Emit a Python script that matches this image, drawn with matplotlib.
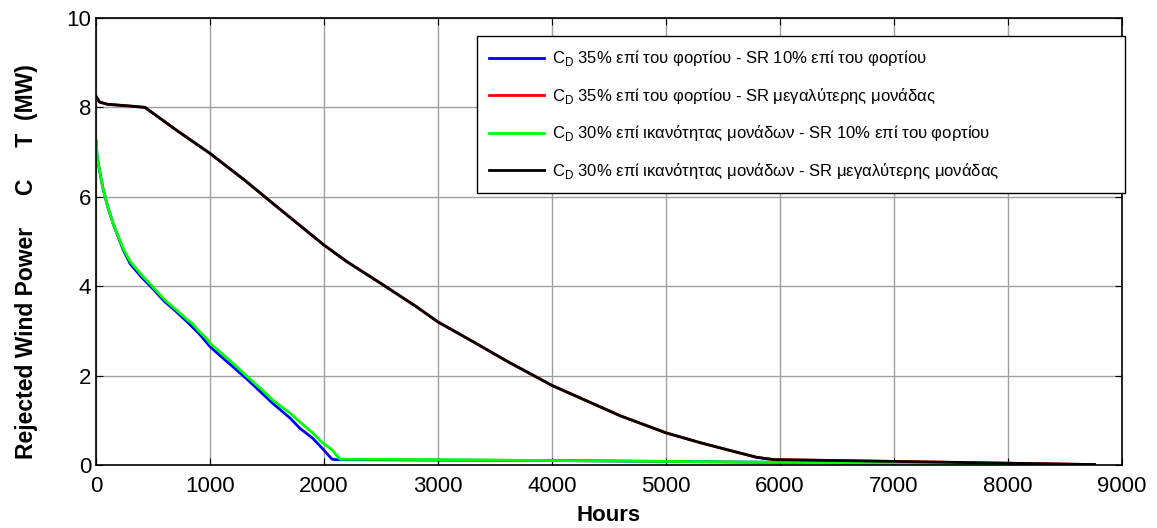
import matplotlib
matplotlib.use("Agg")
import matplotlib.pyplot as plt

plt.rcParams['font.family'] = ['Liberation Sans', 'DejaVu Sans']
plt.rcParams['mathtext.fontset'] = 'custom'
plt.rcParams['mathtext.rm'] = 'Liberation Sans'
plt.rcParams['mathtext.bf'] = 'Liberation Sans:bold'

# black / red curve (red lies under black)
hours_k = [0, 30, 100, 300, 430, 500, 700, 1000, 1300, 1600, 2000, 2200, 2500, 2800,
           3000, 3300, 3600, 4000, 4300, 4600, 5000, 5300, 5600, 5800, 5950, 6500,
           7000, 7500, 8000, 8760]
ct_k = [8.25, 8.12, 8.07, 8.03, 8.0, 7.87, 7.5, 6.97, 6.38, 5.75, 4.92, 4.55, 4.06, 3.56,
        3.2, 2.77, 2.33, 1.78, 1.44, 1.1, 0.72, 0.5, 0.3, 0.17, 0.12, 0.1,
        0.08, 0.06, 0.04, 0.01]

# green curve
hours_g = [0, 10, 30, 60, 100, 150, 237, 300, 400, 500, 600, 700, 800, 850, 900, 974,
           1000, 1100, 1200, 1325, 1450, 1550, 1702, 1789, 1900, 1982, 2070, 2140,
           3000, 4000, 5000, 6000, 7000, 8000, 8760]
ct_g = [7.25, 6.9, 6.6, 6.2, 5.8, 5.4, 4.85, 4.55, 4.25, 3.98, 3.7, 3.48, 3.25, 3.15, 3.0, 2.82,
        2.72, 2.5, 2.28, 1.98, 1.7, 1.45, 1.16, 0.96, 0.72, 0.51, 0.34, 0.13,
        0.12, 0.1, 0.08, 0.06, 0.04, 0.02, 0.0]

# blue curve
hours_b = [0, 10, 30, 60, 100, 150, 237, 300, 400, 500, 600, 700, 800, 900,
           1000, 1100, 1200, 1325, 1450, 1550, 1702, 1789, 1900, 1982, 2070, 2100,
           3000, 4000, 5000, 6000, 7000, 8000, 8760]
ct_b = [7.25, 6.9, 6.6, 6.2, 5.8, 5.4, 4.82, 4.5, 4.2, 3.94, 3.66, 3.44, 3.2, 2.95,
        2.65, 2.42, 2.2, 1.92, 1.62, 1.38, 1.05, 0.82, 0.6, 0.38, 0.13, 0.12,
        0.11, 0.1, 0.08, 0.06, 0.04, 0.02, 0.0]

labels = [r"C$_\mathrm{D}$ 35% επί του φορτίου - SR 10% επί του φορτίου",
          r"C$_\mathrm{D}$ 35% επί του φορτίου - SR μεγαλύτερης μονάδας",
          r"C$_\mathrm{D}$ 30% επί ικανότητας μονάδων - SR 10% επί του φορτίου",
          r"C$_\mathrm{D}$ 30% επί ικανότητας μονάδων - SR μεγαλύτερης μονάδας"]

fig = plt.figure(figsize=(11.57, 5.28), dpi=100)
ax = fig.add_axes([0.083, 0.1193, 0.8867, 0.8466])

lw = 2.0
ax.plot(hours_b, ct_b, color='#0000ff', lw=lw, label=labels[0])
ax.plot(hours_k, ct_k, color='#ff0000', lw=lw, label=labels[1])
ax.plot(hours_g, ct_g, color='#00ff00', lw=lw, label=labels[2])
ax.plot(hours_k, ct_k, color='#000000', lw=lw, label=labels[3])

ax.set_xlim(0, 9000)
ax.set_ylim(0, 10)
ax.set_xticks(range(0, 9001, 1000))
ax.set_yticks(range(0, 11, 2))
ax.grid(True, color='#a0a0a0', lw=1, ls='-')
ax.tick_params(direction='in', top=True, right=True, length=5, labelsize=16)
ax.tick_params(axis='x', pad=8)
for s in ax.spines.values():
    s.set_linewidth(1.2)

ax.set_xlabel("Hours", fontsize=16, fontweight='bold', labelpad=6)
ax.set_ylabel("Rejected Wind Power     C     T  (MW)", fontsize=16.5,
              fontweight='bold')
ax.yaxis.set_label_coords(-0.057, 0.456)

leg = ax.legend(loc='upper left', bbox_to_anchor=(0.3713, 0.606, 0.632, 0.354),
                mode='expand', borderaxespad=0,
                fancybox=False, framealpha=1, edgecolor='black', handlelength=3.3,
                prop={'size': 12},
                labelspacing=1.05, borderpad=0.75, handletextpad=0.45)
leg.get_frame().set_linewidth(1.0)

fig.savefig("out.png", dpi=100)
